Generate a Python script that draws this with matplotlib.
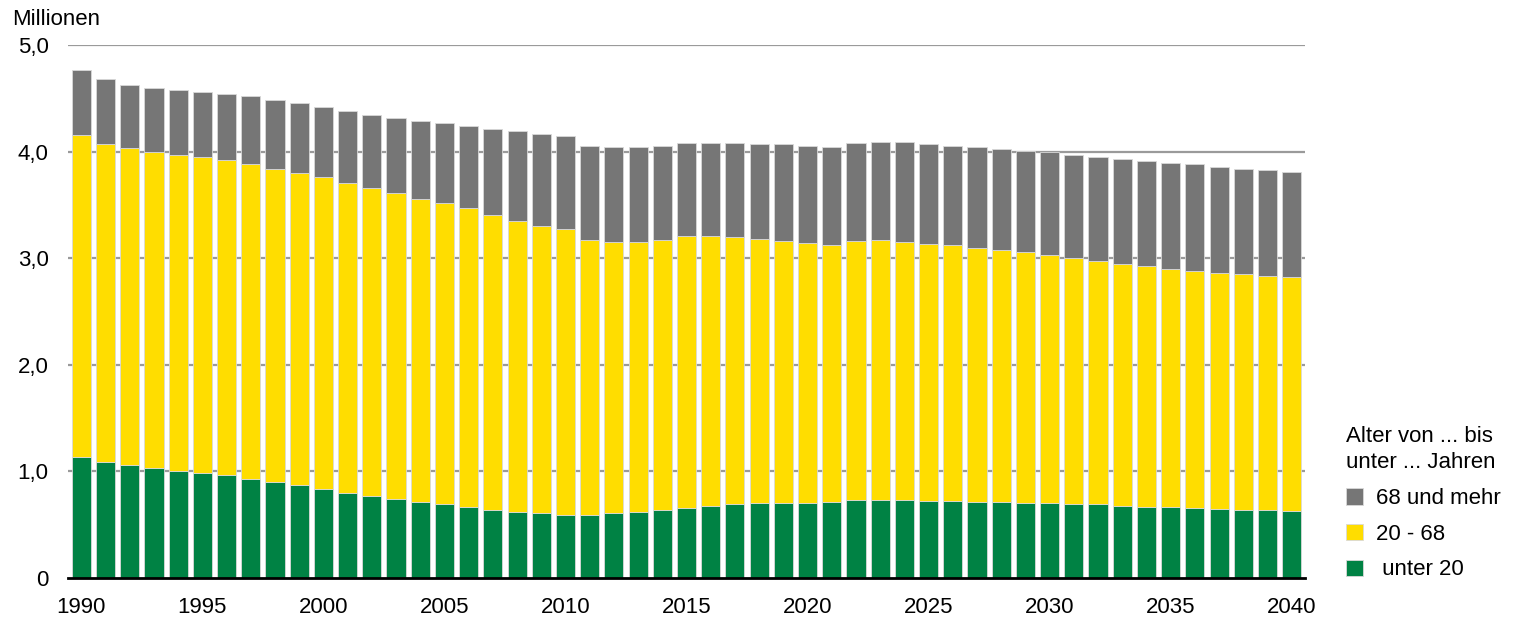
import matplotlib
matplotlib.use('Agg')
import matplotlib.pyplot as plt
import numpy as np

plt.rcParams['font.family'] = ['Liberation Sans', 'DejaVu Sans']

# Werte in Millionen
jahre = list(range(1990, 2041))
unter_20 = [1.14, 1.09, 1.057, 1.035, 1.007, 0.985, 0.963, 0.93, 0.90, 0.87,
            0.835, 0.80, 0.77, 0.74, 0.716, 0.694, 0.67, 0.64, 0.62, 0.607,
            0.59, 0.59, 0.607, 0.62, 0.635, 0.66, 0.68, 0.69, 0.70, 0.70,
            0.706, 0.71, 0.73, 0.735, 0.73, 0.725, 0.725, 0.713, 0.71, 0.706,
            0.70, 0.694, 0.69, 0.68, 0.67, 0.663, 0.654, 0.647, 0.64, 0.638,
            0.63]
von_20_bis_68 = [3.02, 2.985, 2.973, 2.965, 2.963, 2.965, 2.957, 2.955, 2.94, 2.93,
                 2.925, 2.91, 2.89, 2.87, 2.844, 2.826, 2.80, 2.77, 2.73, 2.693,
                 2.68, 2.58, 2.548, 2.535, 2.54, 2.55, 2.53, 2.51, 2.485, 2.465,
                 2.434, 2.415, 2.435, 2.435, 2.42, 2.41, 2.395, 2.387, 2.37, 2.349,
                 2.33, 2.306, 2.28, 2.27, 2.255, 2.237, 2.231, 2.218, 2.21, 2.197,
                 2.19]
ab_68 = [0.61, 0.61, 0.60, 0.60, 0.61, 0.61, 0.62, 0.635, 0.64, 0.655,
         0.66, 0.67, 0.68, 0.705, 0.73, 0.75, 0.775, 0.805, 0.84, 0.865,
         0.875, 0.88, 0.891, 0.885, 0.875, 0.87, 0.87, 0.88, 0.89, 0.905,
         0.91, 0.915, 0.92, 0.925, 0.94, 0.935, 0.935, 0.945, 0.945, 0.955,
         0.965, 0.97, 0.98, 0.98, 0.99, 0.99, 0.995, 0.99, 0.99, 0.99,
         0.99]
yticks = [0, 1, 2, 3, 4, 5]
ytick_labels = ['0', '1,0', '2,0', '3,0', '4,0', '5,0']

fig = plt.figure(figsize=(15.15, 6.19), dpi=100)
ax = fig.add_axes([0.0449, 0.0662, 0.8165, 0.861])

x = np.arange(len(jahre))
unter_20 = np.array(unter_20)
von_20_bis_68 = np.array(von_20_bis_68)
ab_68 = np.array(ab_68)

b1 = ax.bar(x, unter_20, 0.79, color='#008244', edgecolor='#d9d9d9', linewidth=0.6, zorder=2)
b2 = ax.bar(x, von_20_bis_68, 0.79, bottom=unter_20, color='#ffdd00', edgecolor='#d9d9d9', linewidth=0.6, zorder=2)
b3 = ax.bar(x, ab_68, 0.79, bottom=unter_20 + von_20_bis_68, color='#767676', edgecolor='#d9d9d9', linewidth=0.6, zorder=2)

ax.set_xlim(-0.55, 50.55)
ax.set_ylim(0, 5)
ax.set_yticks(yticks)
ax.set_yticklabels(ytick_labels)
xt = [i for i, j in enumerate(jahre) if j % 5 == 0]
ax.set_xticks(xt)
ax.set_xticklabels([str(jahre[i]) for i in xt])
ax.tick_params(axis='both', length=0, labelsize=16)
ax.tick_params(axis='y', pad=14)
ax.tick_params(axis='x', pad=14)
for v in yticks[1:]:
    ax.axhline(v, color='#9a9a9a', linewidth=1.6, zorder=1)
for s in ['top', 'right', 'left']:
    ax.spines[s].set_visible(False)
ax.spines['bottom'].set_linewidth(2)
ax.spines['bottom'].set_color('black')
ax.spines['bottom'].set_zorder(3)

fig.text(0.008, 0.968, 'Millionen', fontsize=16, va='center', ha='left')

leg = ax.legend([b3, b2, b1], ['68 und mehr', '20 - 68', ' unter 20'],
                title='Alter von ... bis\nunter ... Jahren', title_fontsize=16,
                fontsize=16, frameon=False, loc='upper left',
                bbox_to_anchor=(1.033, 0.2855), handlelength=0.75, handleheight=0.75,
                handletextpad=0.6, labelspacing=0.66, borderpad=0, borderaxespad=0)
leg._legend_box.align = 'left'
leg.get_title().set_linespacing(1.35)

fig.savefig('out.png', dpi=100)
